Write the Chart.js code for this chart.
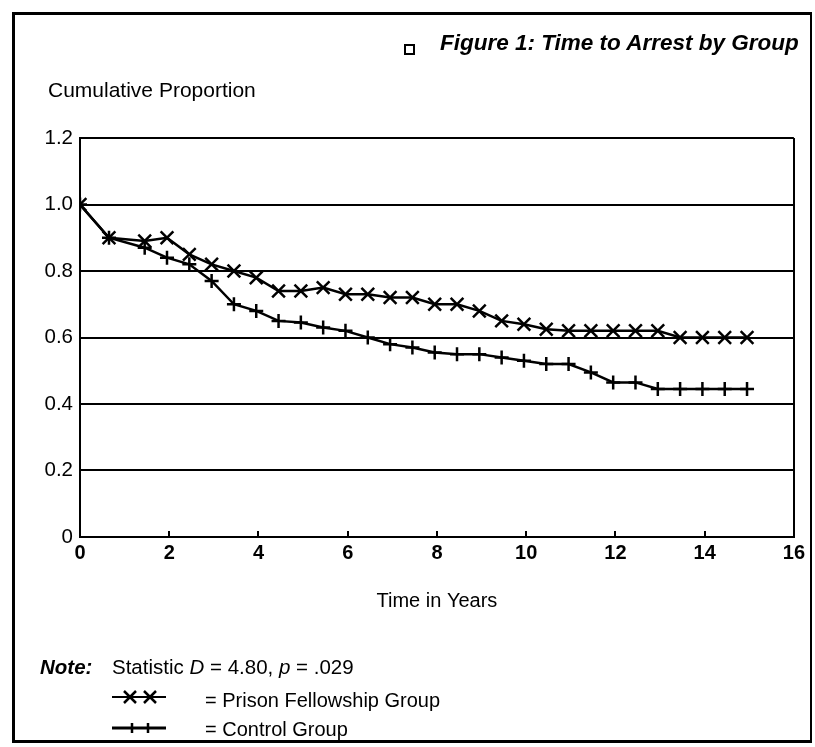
<!DOCTYPE html>
<html>
<head>
<meta charset="utf-8">
<script src="https://cdn.jsdelivr.net/npm/chart.js@4.4.1/dist/chart.umd.min.js"></script>
<style>
  html, body { margin: 0; padding: 0; background: #fff; }
  #page { position: relative; width: 815px; height: 747px; overflow: hidden; background: #fff;
          font-family: "Liberation Sans", Arial, sans-serif; color: #000; }
  #frame { position: absolute; left: 12px; top: 12px; width: 800px; height: 731px;
           box-sizing: border-box; border: 3px solid #000; border-right-width: 2px; }
  #chartCanvas { position: absolute; left: 0; top: 0; }
  .txt { position: absolute; white-space: nowrap; line-height: 1; }
  #title { left: 440px; top: 32px; font-size: 22.5px; font-weight: bold; font-style: italic; }
  #box { position: absolute; left: 404px; top: 44px; width: 11px; height: 11px;
         box-sizing: border-box; border: 2px solid #000; }
  #ylab { left: 48px; top: 79px; font-size: 21px; }
  #note { left: 40px; top: 657px; font-size: 20.5px; font-weight: bold; font-style: italic; }
  #stat { left: 112px; top: 657px; font-size: 20.5px; }
  #leg1 { left: 205px; top: 690px; font-size: 20px; }
  #leg2 { left: 205px; top: 719px; font-size: 20px; }
  .sym { position: absolute; }
</style>
</head>
<body>
<div id="page">
  <canvas id="chartCanvas" width="815" height="747"></canvas>
  <div id="frame"></div>
  <div id="box"></div>
  <div class="txt" id="title">Figure 1: Time to Arrest by Group</div>
  <div class="txt" id="ylab">Cumulative Proportion</div>
  <div class="txt" id="note">Note:</div>
  <div class="txt" id="stat">Statistic <i>D</i> = 4.80, <i>p</i> = .029</div>
  <svg class="sym" style="left:110px;top:688px" width="60" height="18">
    <line x1="2" y1="9" x2="56" y2="9" stroke="#000" stroke-width="2"/>
    <path d="M14 3 L26 15 M26 3 L14 15 M34 3 L46 15 M46 3 L34 15" stroke="#000" stroke-width="2.5" fill="none"/>
  </svg>
  <div class="txt" id="leg1">= Prison Fellowship Group</div>
  <svg class="sym" style="left:110px;top:719px" width="60" height="18">
    <line x1="2" y1="9" x2="56" y2="9" stroke="#000" stroke-width="3"/>
    <path d="M22 4 L22 14 M38 4 L38 14" stroke="#000" stroke-width="2.5" fill="none"/>
  </svg>
  <div class="txt" id="leg2">= Control Group</div>
</div>
<script>
// время (годы) для каждой точки
const years = [0, 0.65, 1.45, 1.95, 2.45, 2.95, 3.45, 3.95, 4.45, 4.95, 5.45, 5.95, 6.45, 6.95, 7.45,
  7.95, 8.45, 8.95, 9.45, 9.95, 10.45, 10.95, 11.45, 11.95, 12.45, 12.95, 13.45, 13.95, 14.45, 14.95];

// Prison Fellowship Group (X)
const prisonFellowship = [1.0, 0.90, 0.89, 0.90, 0.85, 0.82, 0.80, 0.78, 0.74, 0.74, 0.75, 0.73, 0.73, 0.72, 0.72,
  0.70, 0.70, 0.68, 0.65, 0.64, 0.625, 0.62, 0.62, 0.62, 0.62, 0.62, 0.60, 0.60, 0.60, 0.60];

// Control Group (+)
const controlGroup = [1.0, 0.90, 0.87, 0.84, 0.82, 0.77, 0.70, 0.68, 0.65, 0.645, 0.63, 0.62, 0.60, 0.58, 0.57,
  0.555, 0.55, 0.55, 0.54, 0.53, 0.52, 0.52, 0.495, 0.465, 0.465, 0.445, 0.445, 0.445, 0.445, 0.445];

const xTicks = [0, 2, 4, 6, 8, 10, 12, 14, 16];
const xTickLabels = ["0", "2", "4", "6", "8", "10", "12", "14", "16"];
const yTicks = [0, 0.2, 0.4, 0.6, 0.8, 1.0, 1.2];
const yTickLabels = ["0", "0.2", "0.4", "0.6", "0.8", "1.0", "1.2"];

const FONT = '"Liberation Sans", Arial, sans-serif';

const toPoints = (vals) => years.map((x, i) => ({ x: x, y: vals[i] }));

const ctx = document.getElementById("chartCanvas").getContext("2d");

new Chart(ctx, {
  type: "line",
  data: {
    datasets: [
      {
        label: "Prison Fellowship Group",
        data: toPoints(prisonFellowship),
        borderColor: "#000",
        borderWidth: 2.5,
        pointStyle: "crossRot",
        pointRadius: 9,
        pointBorderWidth: 2.5,
        pointBorderColor: "#000",
        tension: 0,
      },
      {
        label: "Control Group",
        data: toPoints(controlGroup),
        borderColor: "#000",
        borderWidth: 2.5,
        pointStyle: "cross",
        pointRadius: 7,
        pointBorderWidth: 2.5,
        pointBorderColor: "#000",
        tension: 0,
      },
    ],
  },
  options: {
    responsive: false,
    animation: false,
    layout: { padding: { left: 0, top: 138, right: 19, bottom: 136 } },
    plugins: {
      legend: { display: false },
      tooltip: { enabled: false },
    },
    scales: {
      x: {
        type: "linear",
        min: 0,
        max: 16,
        afterFit: (s) => { s.height = 74; },
        afterBuildTicks: (s) => { s.ticks = xTicks.map((v) => ({ value: v })); },
        ticks: {
          padding: 10,
          color: "#000",
          autoSkip: false,
          maxRotation: 0,
          font: { family: FONT, size: 20, weight: "bold" },
          callback: (v, i) => xTickLabels[i],
        },
        grid: {
          drawOnChartArea: true,
          color: (c) => (c.tick && c.tick.value === 16 ? "#000" : "rgba(0,0,0,0)"),
          lineWidth: 2,
          tickLength: -6,
          tickColor: "#000",
          tickWidth: 2,
        },
        border: { color: "#000", width: 2 },
        title: {
          display: true,
          text: "Time in Years",
          color: "#000",
          padding: 0,
          font: { family: FONT, size: 20, lineHeight: 1 },
        },
      },
      y: {
        min: 0,
        max: 1.2,
        afterFit: (s) => { s.width = 80; },
        afterBuildTicks: (s) => { s.ticks = yTicks.map((v) => ({ value: v })); },
        ticks: {
          padding: 7,
          color: "#000",
          font: { family: FONT, size: 20.5 },
          callback: (v, i) => yTickLabels[i],
        },
        grid: { color: "#000", lineWidth: 2, drawTicks: false },
        border: { color: "#000", width: 2 },
      },
    },
  },
});
</script>
</body>
</html>
